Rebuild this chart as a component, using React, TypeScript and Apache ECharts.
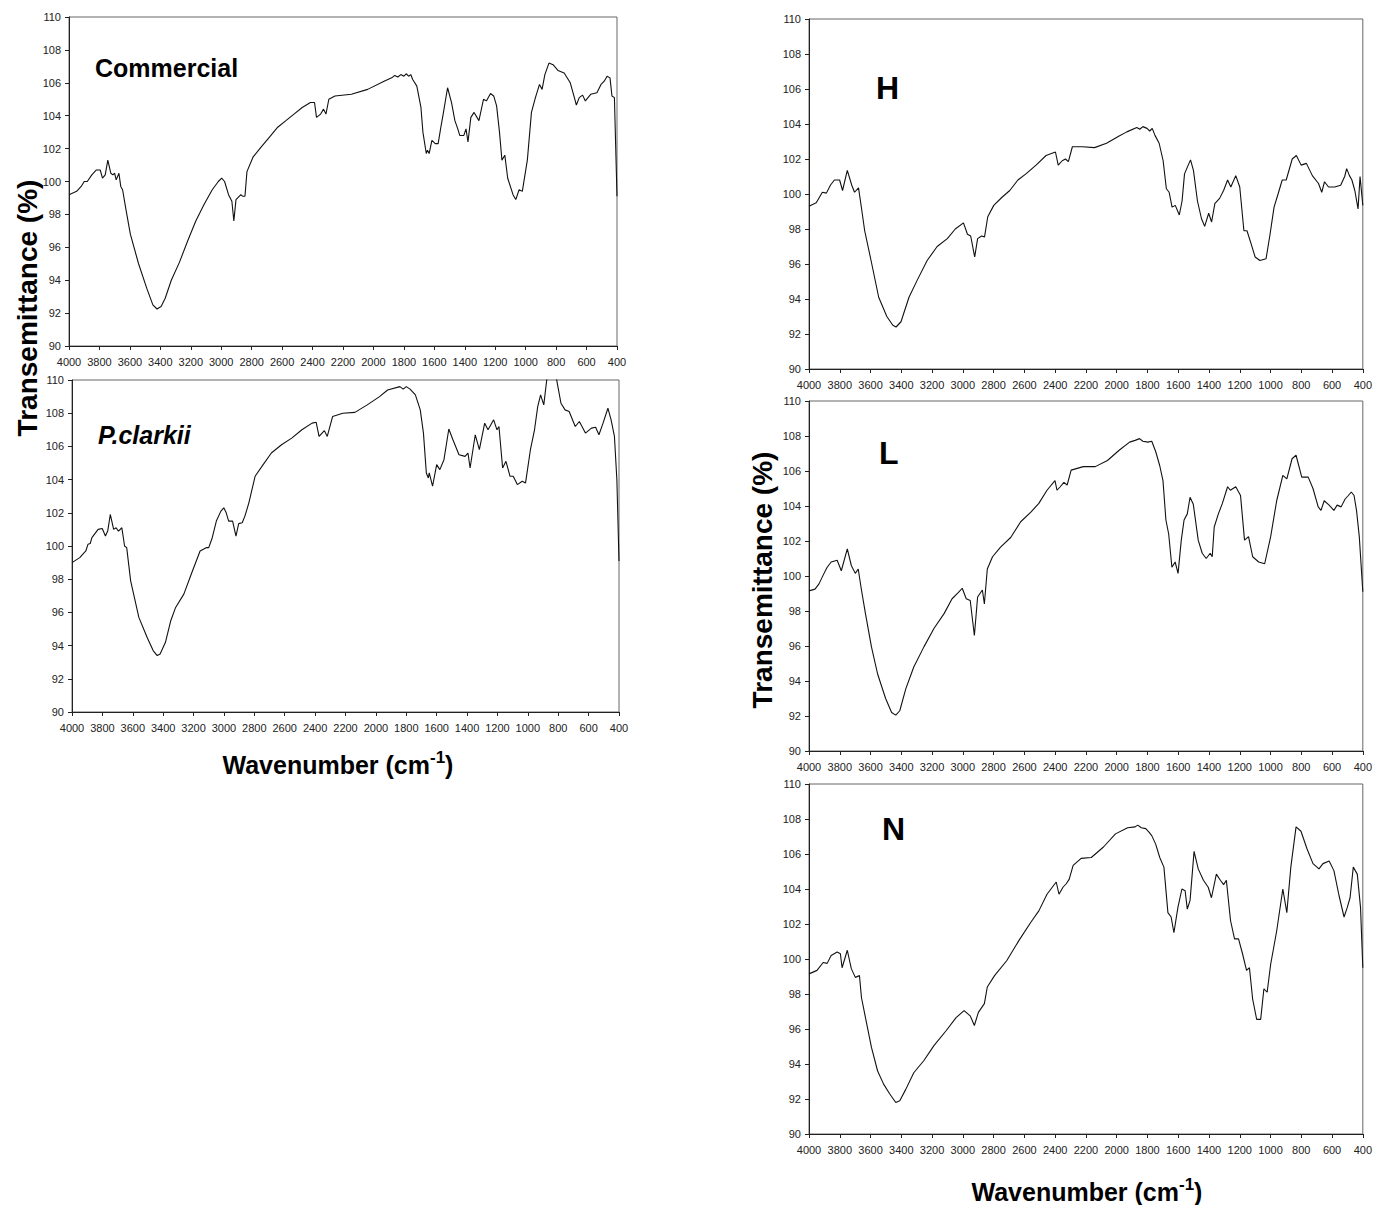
import React, { useEffect, useRef } from "react";
import * as echarts from "echarts";

const FONT = 'Arial, "Liberation Sans", Helvetica, sans-serif';

// Wavenumber (cm-1), Transmittance (%) pairs
const commercialData: number[][] = [
  [4000, 99.2], [3950, 99.4], [3920, 99.7], [3900, 100.0], [3880, 100.0], [3850, 100.4], [3820, 100.7], [3795, 100.7],
  [3780, 100.2], [3762, 100.4], [3745, 101.3], [3725, 100.5], [3712, 100.4], [3700, 100.5], [3690, 100.1], [3672, 100.5],
  [3660, 99.7], [3648, 99.5], [3624, 98.2], [3597, 96.8], [3543, 95.0], [3489, 93.5], [3449, 92.5], [3422, 92.25],
  [3395, 92.4], [3368, 92.9], [3328, 94.0], [3274, 95.1], [3220, 96.4], [3167, 97.6], [3113, 98.6], [3059, 99.5],
  [3019, 100.0], [2997, 100.2], [2978, 100.0], [2952, 99.2], [2930, 98.8], [2917, 97.6], [2903, 98.9], [2871, 99.2],
  [2858, 99.1], [2844, 99.1], [2831, 100.6], [2790, 101.5], [2737, 102.1], [2683, 102.7], [2629, 103.3], [2575, 103.7],
  [2522, 104.1], [2468, 104.5], [2414, 104.8], [2387, 104.8], [2374, 103.9], [2347, 104.1], [2328, 104.4], [2312, 104.1],
  [2293, 105.0], [2253, 105.2], [2145, 105.3], [2038, 105.6], [1930, 106.1], [1880, 106.3], [1860, 106.45], [1840, 106.35],
  [1820, 106.5], [1800, 106.4], [1785, 106.55], [1769, 106.4], [1755, 106.5], [1742, 106.2], [1715, 105.8], [1688, 104.5],
  [1675, 103.0], [1653, 101.7], [1645, 101.9], [1634, 101.7], [1616, 102.5], [1594, 102.3], [1575, 102.3], [1559, 103.2],
  [1540, 104.2], [1513, 105.7], [1487, 104.8], [1465, 103.7], [1446, 103.2], [1433, 102.8], [1406, 102.8], [1392, 103.2],
  [1379, 102.4], [1360, 103.9], [1339, 104.2], [1307, 103.7], [1277, 105.0], [1258, 104.9], [1231, 105.35], [1210, 105.2],
  [1191, 104.6], [1172, 103.0], [1156, 101.3], [1137, 101.6], [1118, 100.2], [1083, 99.2], [1065, 98.9], [1043, 99.5],
  [1022, 99.4], [989, 101.3], [962, 104.2], [936, 105.1], [909, 105.9], [892, 105.6], [874, 106.5], [847, 107.2],
  [820, 107.1], [788, 106.75], [747, 106.6], [707, 106.0], [680, 105.1], [667, 104.65], [648, 105.1], [626, 105.25],
  [608, 104.9], [573, 105.3], [532, 105.4], [505, 105.9], [484, 106.1], [465, 106.4], [446, 106.3], [433, 105.2],
  [417, 105.1], [400, 99.1],
];

const clarkiiData: number[][] = [
  [4000, 99.0], [3949, 99.3], [3909, 99.7], [3895, 100.1], [3880, 100.15], [3869, 100.5], [3828, 101.0], [3801, 101.05],
  [3780, 100.6], [3765, 100.9], [3748, 101.9], [3726, 101.0], [3710, 101.1], [3694, 100.9], [3672, 101.1], [3654, 100.0],
  [3640, 99.9], [3614, 97.9], [3560, 95.7], [3506, 94.5], [3466, 93.7], [3439, 93.4], [3420, 93.5], [3385, 94.2],
  [3350, 95.5], [3318, 96.3], [3264, 97.1], [3211, 98.4], [3157, 99.7], [3117, 99.9], [3100, 99.9], [3077, 100.5],
  [3050, 101.5], [3020, 102.1], [3001, 102.3], [2985, 102.0], [2969, 101.5], [2943, 101.5], [2921, 100.6], [2903, 101.35],
  [2880, 101.4], [2862, 101.8], [2836, 102.6], [2795, 104.2], [2742, 104.9], [2688, 105.6], [2621, 106.1], [2554, 106.5],
  [2487, 107.0], [2420, 107.4], [2393, 107.45], [2374, 106.6], [2339, 106.95], [2320, 106.6], [2285, 107.8], [2218, 108.0],
  [2138, 108.05], [2057, 108.5], [1976, 109.0], [1923, 109.4], [1842, 109.6], [1820, 109.45], [1800, 109.6], [1775, 109.45],
  [1740, 109.1], [1708, 108.2], [1687, 106.8], [1668, 104.4], [1655, 104.1], [1649, 104.4], [1627, 103.6], [1600, 104.9],
  [1579, 104.6], [1552, 105.2], [1520, 107.05], [1493, 106.4], [1453, 105.5], [1413, 105.4], [1394, 105.6], [1380, 104.7],
  [1346, 106.7], [1319, 105.8], [1284, 107.4], [1262, 107.0], [1225, 107.6], [1203, 107.0], [1190, 107.2], [1166, 104.7],
  [1144, 105.1], [1117, 104.2], [1096, 104.2], [1069, 103.7], [1037, 103.9], [1015, 103.8], [983, 105.8], [956, 107.0],
  [935, 108.4], [916, 109.1], [895, 108.5], [868, 110.6], [822, 110.6], [800, 109.5], [782, 108.6], [755, 108.2],
  [728, 108.1], [688, 107.2], [661, 107.5], [621, 106.8], [581, 107.1], [554, 107.15], [532, 106.7], [505, 107.4],
  [473, 108.3], [452, 107.6], [430, 106.6], [414, 104.0], [400, 99.1],
];

const hData: number[][] = [
  [4000, 99.3], [3953, 99.5], [3913, 100.1], [3887, 100.05], [3861, 100.5], [3835, 100.8], [3801, 100.8], [3782, 100.2],
  [3751, 101.35], [3722, 100.5], [3704, 100.1], [3678, 100.35], [3659, 99.2], [3638, 97.9], [3599, 96.3], [3547, 94.1],
  [3494, 93.0], [3455, 92.5], [3434, 92.4], [3402, 92.7], [3350, 94.1], [3298, 95.05], [3232, 96.2], [3167, 97.0],
  [3101, 97.45], [3049, 98.0], [2996, 98.35], [2970, 97.7], [2949, 97.6], [2923, 96.4], [2904, 97.45], [2878, 97.6],
  [2859, 97.55], [2838, 98.7], [2799, 99.35], [2747, 99.8], [2695, 100.2], [2642, 100.8], [2590, 101.15], [2524, 101.65],
  [2459, 102.2], [2398, 102.4], [2380, 101.65], [2354, 101.9], [2333, 102.0], [2314, 101.85], [2288, 102.7], [2223, 102.7],
  [2144, 102.65], [2066, 102.9], [1987, 103.3], [1934, 103.55], [1869, 103.8], [1850, 103.7], [1830, 103.85], [1803, 103.75],
  [1785, 103.6], [1769, 103.75], [1751, 103.35], [1724, 102.9], [1698, 101.9], [1677, 100.3], [1659, 100.1], [1640, 99.25],
  [1619, 99.35], [1593, 98.8], [1575, 99.6], [1559, 101.15], [1540, 101.55], [1520, 101.95], [1501, 101.35], [1475, 99.6],
  [1449, 98.6], [1428, 98.15], [1402, 98.9], [1383, 98.4], [1362, 99.45], [1331, 99.75], [1305, 100.2], [1279, 100.8],
  [1258, 100.4], [1226, 101.05], [1200, 100.4], [1173, 97.9], [1153, 97.9], [1126, 97.15], [1100, 96.4], [1069, 96.2],
  [1029, 96.3], [1003, 97.7], [977, 99.25], [951, 100.0], [924, 100.8], [898, 100.8], [859, 102.0], [832, 102.2],
  [801, 101.65], [767, 101.75], [728, 101.05], [688, 100.6], [667, 100.1], [649, 100.7], [623, 100.4], [583, 100.4],
  [544, 100.5], [518, 101.0], [505, 101.45], [487, 101.05], [471, 100.8], [452, 100.2], [431, 99.15], [418, 101.0],
  [400, 99.35],
];

const lData: number[][] = [
  [4000, 99.15], [3961, 99.25], [3935, 99.55], [3908, 100.05], [3882, 100.5], [3856, 100.8], [3817, 100.9], [3790, 100.3],
  [3751, 101.55], [3725, 100.6], [3699, 100.15], [3680, 100.4], [3659, 99.2], [3633, 97.85], [3594, 95.95], [3554, 94.4],
  [3502, 93.0], [3463, 92.2], [3436, 92.05], [3410, 92.3], [3371, 93.55], [3319, 94.8], [3253, 95.95], [3188, 97.0],
  [3122, 97.85], [3070, 98.7], [3030, 99.05], [3004, 99.3], [2978, 98.7], [2952, 98.6], [2925, 96.6], [2904, 98.8],
  [2873, 99.2], [2860, 98.4], [2841, 100.4], [2807, 101.1], [2755, 101.65], [2689, 102.2], [2624, 103.1], [2558, 103.65],
  [2506, 104.15], [2453, 104.9], [2401, 105.45], [2388, 104.9], [2367, 105.1], [2343, 105.35], [2322, 105.2], [2296, 106.05],
  [2217, 106.25], [2139, 106.25], [2060, 106.6], [1982, 107.2], [1916, 107.65], [1880, 107.75], [1851, 107.85], [1830, 107.7],
  [1798, 107.65], [1772, 107.7], [1746, 107.1], [1720, 106.3], [1699, 105.45], [1680, 103.2], [1662, 102.4], [1641, 100.5],
  [1620, 100.8], [1601, 100.15], [1580, 102.05], [1562, 103.2], [1541, 103.55], [1523, 104.5], [1502, 104.1], [1470, 102.05],
  [1444, 101.3], [1418, 101.0], [1392, 101.3], [1379, 101.1], [1366, 102.8], [1339, 103.55], [1313, 104.15], [1279, 105.1],
  [1261, 104.9], [1226, 105.1], [1195, 104.6], [1169, 102.05], [1143, 102.25], [1116, 101.1], [1077, 100.8], [1038, 100.7],
  [999, 102.25], [960, 104.3], [920, 105.75], [894, 105.55], [860, 106.7], [834, 106.9], [797, 105.65], [755, 105.65],
  [724, 105.0], [690, 103.95], [672, 103.75], [651, 104.3], [619, 104.05], [588, 103.75], [567, 104.05], [541, 103.95],
  [515, 104.4], [494, 104.6], [475, 104.8], [457, 104.6], [441, 103.75], [423, 102.25], [400, 99.1],
];

const nData: number[][] = [
  [4000, 99.15], [3948, 99.35], [3908, 99.8], [3882, 99.75], [3856, 100.2], [3817, 100.4], [3796, 100.3], [3785, 99.5],
  [3751, 100.5], [3725, 99.45], [3699, 98.95], [3672, 99.05], [3659, 97.8], [3633, 96.65], [3594, 94.95], [3554, 93.6],
  [3515, 92.85], [3476, 92.3], [3436, 91.8], [3410, 91.9], [3371, 92.55], [3319, 93.5], [3253, 94.2], [3188, 95.05],
  [3109, 95.9], [3044, 96.65], [2992, 97.05], [2952, 96.75], [2925, 96.2], [2899, 96.95], [2860, 97.45], [2841, 98.4],
  [2794, 99.05], [2715, 99.9], [2636, 101.05], [2558, 102.1], [2506, 102.75], [2453, 103.7], [2393, 104.4], [2375, 103.7],
  [2349, 104.1], [2328, 104.3], [2309, 104.55], [2283, 105.35], [2231, 105.75], [2165, 105.8], [2086, 106.4], [2008, 107.15],
  [1929, 107.5], [1880, 107.55], [1863, 107.65], [1840, 107.5], [1811, 107.45], [1790, 107.25], [1772, 107.05], [1746, 106.55],
  [1720, 105.8], [1693, 105.25], [1667, 102.65], [1646, 102.4], [1628, 101.5], [1602, 102.95], [1576, 104.0], [1555, 103.9],
  [1541, 102.85], [1523, 103.35], [1497, 106.15], [1470, 105.15], [1436, 104.5], [1405, 104.1], [1384, 103.5], [1352, 104.85],
  [1326, 104.5], [1305, 104.25], [1287, 104.5], [1260, 102.2], [1234, 101.15], [1208, 101.15], [1182, 100.3], [1156, 99.35],
  [1137, 99.5], [1116, 97.7], [1090, 96.55], [1064, 96.55], [1043, 98.3], [1022, 98.1], [999, 99.7], [960, 101.6],
  [920, 104.0], [894, 102.65], [868, 105.25], [834, 107.55], [802, 107.3], [763, 106.3], [724, 105.45], [685, 105.15],
  [659, 105.45], [619, 105.6], [588, 105.05], [554, 103.6], [522, 102.4], [501, 102.95], [483, 103.5], [462, 105.25],
  [436, 104.85], [415, 102.95], [400, 99.5],
];

const panelNames = ["Commercial", "P.clarkii", "H", "L", "N"];
const panelSeries = [commercialData, clarkiiData, hData, lData, nData];

// layout (pixels)
const grids = [
  { left: 69, top: 17, width: 548, height: 329 },
  { left: 72, top: 380, width: 547, height: 332 },
  { left: 809, top: 19, width: 557, height: 350 },
  { left: 809, top: 401, width: 557, height: 350 },
  { left: 809, top: 784, width: 557, height: 350 },
];

const nameLabels = [
  { x: 95, y: 68, size: 25, italic: false },
  { x: 98, y: 435, size: 25, italic: true },
  { x: 876, y: 88, size: 32, italic: false },
  { x: 879, y: 453, size: 32, italic: false },
  { x: 882, y: 829, size: 32, italic: false },
];

export default function App() {
  const ref = useRef<HTMLDivElement>(null);
  useEffect(() => {
    if (!ref.current) return;
    const chart = echarts.init(ref.current, null, { renderer: "svg" });
    const axisColor = "#222";
    const option: any = {
      animation: false,
      backgroundColor: "#fff",
      grid: grids.map((g) => ({
        ...g,
        show: true,
        borderColor: "#666",
        borderWidth: 1,
        backgroundColor: "transparent",
      })),
      xAxis: grids.map((_, i) => ({
        type: "value",
        gridIndex: i,
        min: 400,
        max: 4000,
        interval: 200,
        inverse: true,
        axisLine: { show: true, onZero: false, lineStyle: { color: axisColor, width: 1 } },
        axisTick: { show: true, inside: false, length: 4, lineStyle: { color: axisColor } },
        axisLabel: {
          show: true,
          fontSize: 11,
          color: "#222",
          margin: 10,
          fontFamily: FONT,
          hideOverlap: false,
          formatter: (v: number) => String(v),
        },
        splitLine: { show: false },
      })),
      yAxis: grids.map((_, i) => ({
        type: "value",
        gridIndex: i,
        min: 90,
        max: 110,
        interval: 2,
        axisLine: { show: true, onZero: false, lineStyle: { color: axisColor, width: 1 } },
        axisTick: { show: true, inside: false, length: 4, lineStyle: { color: axisColor } },
        axisLabel: {
          show: true,
          fontSize: 11,
          color: "#222",
          margin: 8,
          fontFamily: FONT,
          formatter: (v: number) => String(v),
        },
        splitLine: { show: false },
      })),
      series: panelSeries.map((d, i) => ({
        type: "line",
        name: panelNames[i],
        xAxisIndex: i,
        yAxisIndex: i,
        data: d,
        showSymbol: false,
        symbol: "none",
        clip: true,
        lineStyle: { color: "#111", width: 1.1 },
        silent: true,
      })),
      graphic: [
        ...nameLabels.map((n, i) => ({
          type: "text",
          x: n.x,
          y: n.y,
          silent: true,
          style: {
            text: panelNames[i],
            font: `${n.italic ? "italic " : ""}bold ${n.size}px ${FONT}`,
            fill: "#000",
            align: "left",
            verticalAlign: "middle",
          },
        })),
        {
          type: "text",
          x: 27,
          y: 308,
          rotation: Math.PI / 2,
          silent: true,
          style: {
            text: "Transemittance (%)",
            font: `bold 28px ${FONT}`,
            fill: "#000",
            align: "center",
            verticalAlign: "middle",
          },
        },
        {
          type: "text",
          x: 762,
          y: 580,
          rotation: Math.PI / 2,
          silent: true,
          style: {
            text: "Transemittance (%)",
            font: `bold 28px ${FONT}`,
            fill: "#000",
            align: "center",
            verticalAlign: "middle",
          },
        },
        ...[
          { x: 338, y: 765 },
          { x: 1087, y: 1192 },
        ].map((p) => ({
          type: "text",
          x: p.x,
          y: p.y,
          silent: true,
          style: {
            text: "{a|Wavenumber (cm}{s|-1}{a|)}",
            align: "center",
            verticalAlign: "middle",
            fill: "#000",
            rich: {
              a: { fontSize: 25, fontWeight: "bold", fontFamily: FONT, lineHeight: 32, fill: "#000" },
              s: { fontSize: 17, fontWeight: "bold", fontFamily: FONT, verticalAlign: "top", fill: "#000" },
            },
          },
        })),
      ],
    };
    chart.setOption(option);
    return () => chart.dispose();
  }, []);
  return (
    <div
      ref={ref}
      style={{ position: "absolute", left: 0, top: 0, width: 1375, height: 1205, background: "#fff" }}
    />
  );
}
